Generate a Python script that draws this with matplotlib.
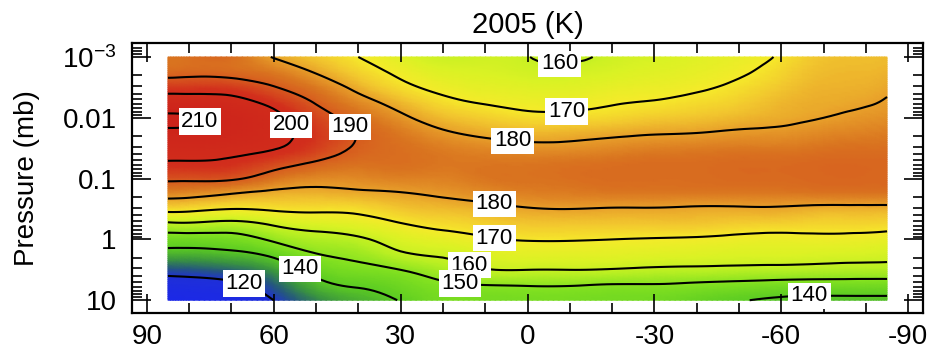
import numpy as np
import matplotlib
matplotlib.use("Agg")
import matplotlib.pyplot as plt
import matplotlib.tri as mtri
from matplotlib.colors import LinearSegmentedColormap

plt.rcParams["font.family"] = ["Liberation Sans", "DejaVu Sans"]
plt.rcParams["axes.unicode_minus"] = False

# latitude (deg) and log10 pressure (mb) of the temperature grid
lat = [85, 80, 70, 60, 50, 40, 30, 20, 10, 0, -10, -20, -30, -40, -50, -60, -70, -80, -85]
log_p = [-3, -2.75, -2.5, -2.25, -2, -1.75, -1.5, -1.25, -1, -0.75, -0.5, -0.25, 0, 0.25, 0.5, 0.75, 1]

# temperature (K), one row per latitude, top (1e-3 mb) to bottom (10 mb)
temp_by_lat = [
    [186, 187.5, 196, 205, 211, 208.5, 204, 199, 191.5, 183, 172.5, 158, 145, 136, 124, 116, 112],
    [186.5, 188, 196, 205, 210.5, 208.5, 204, 199, 191.5, 182.5, 172, 158.5, 145, 136, 124.5, 116.5, 112.5],
    [187, 187.5, 195.5, 203, 207, 206.5, 203, 198, 191, 180, 170, 157, 146, 137.5, 127, 118, 114],
    [179.5, 185, 190.5, 197.5, 202, 202.5, 200.5, 193.5, 186, 178, 171, 161, 151.5, 142, 133, 125.5, 120],
    [175, 179.5, 185, 189.5, 194, 196.5, 195, 189, 183, 177.5, 171.5, 164, 156, 149.5, 143, 137, 130],
    [170, 173.5, 178, 183, 187, 189.5, 189, 186.5, 183, 178.5, 172, 166, 158.5, 152.5, 147, 141, 136],
    [165, 168.5, 172, 177, 181.5, 185, 186.5, 186.5, 184, 179.5, 175, 169.5, 164, 158.5, 150, 144.5, 140.5],
    [161, 164.5, 168, 172, 176.5, 181, 184.5, 185.5, 184, 181, 176.5, 172, 166.5, 161, 155, 148.5, 146],
    [161.5, 163.5, 166, 169.5, 174, 178.5, 183, 185.5, 185.5, 182.5, 178, 173.5, 169, 164, 159.5, 150, 146],
    [160.2, 162, 165, 168, 172, 177, 182, 185.5, 186, 184, 179.5, 175, 170.5, 165.5, 160, 150.5, 146],
    [158.5, 162, 165, 168, 172, 177.5, 182, 186, 186.5, 184.5, 180, 175, 170.5, 165.5, 160, 150.5, 146],
    [161.5, 163.5, 166.5, 169.5, 173, 178.5, 183, 186.5, 187, 185, 179.5, 175, 170, 165.5, 159.5, 149.5, 145.5],
    [163, 165, 167.5, 170.5, 174.5, 179.5, 184, 187, 187, 185, 179.5, 175, 169.5, 165, 158.5, 149.5, 145],
    [165, 166.5, 169, 172, 175.5, 180, 184.5, 187, 187, 185, 179, 175, 169, 164.5, 158, 148.5, 142.5],
    [167, 169, 171.5, 174, 177, 181, 185, 187.5, 187.5, 185, 179, 174, 168, 164, 157.5, 147.5, 140.5],
    [171, 173, 175, 177, 178.5, 181.5, 185, 187.5, 187.5, 185, 179, 173.5, 167.5, 164, 157, 146.5, 138.5],
    [175.5, 176.5, 177.5, 178.5, 180, 183, 186, 188, 188, 185.5, 178, 173, 168, 163.5, 156.5, 146, 138],
    [176, 177, 178, 179.5, 181.5, 184, 186.5, 188, 188, 185.5, 178, 173, 167.5, 163, 156, 146, 138],
    [176.5, 177.5, 179, 180.5, 182, 184.5, 186.5, 188, 188, 185.5, 178, 172.5, 167, 162.5, 156, 146, 138],
]

contour_levels = [120, 140, 150, 160, 170, 180, 190, 200, 210]
# (lat, log10 p) where each contour label sits
label_spots = [(76.5, -1.95), (55.5, -1.9), (42, -1.85), (-7.6, -2.89), (-9.2, -2.13),
               (3.5, -1.66), (7.8, -0.61), (7.8, -0.05), (13.7, 0.41), (16, 0.72),
               (53, 0.38), (66.8, 0.67), (-66.6, 0.92)]

x_ticks = [90, 60, 30, 0, -30, -60, -90]
y_ticks = [-3, -2, -1, 0, 1]
y_ticklabels = [r"$\mathregular{10^{-3}}$", "0.01", "0.1", "1", "10"]

# colour scale: blue -> green -> yellow -> orange -> red
tmin, tmax = 110, 212
cmap_pts = [(110, "#1a26eb"), (119, "#1f30d8"), (125, "#25587e"), (132, "#3a9440"),
            (140, "#5ccc22"), (148, "#80e020"), (157, "#b8ef22"), (164, "#dcf224"),
            (170, "#f6ea2a"), (175, "#f2c82e"), (180, "#e8a02a"), (186, "#d9731f"),
            (192, "#d6501e"), (198, "#d22e1c"), (212, "#cc221a")]
cmap = LinearSegmentedColormap.from_list(
    "titan", [((t - tmin) / (tmax - tmin), c) for t, c in cmap_pts])

# grid -> triangulation (lat scaled so cells are square), smoothed by mpl's refiner
T = np.array(temp_by_lat).T
LA, LP = np.meshgrid(np.array(lat) / 40.0, log_p)
ny, nx = T.shape
tris = []
for j in range(ny - 1):
    for i in range(nx - 1):
        a = j * nx + i
        tris.append([a, a + 1, a + nx + 1])
        tris.append([a, a + nx + 1, a + nx])
tri = mtri.Triangulation(LA.ravel(), LP.ravel(), tris)
tri_fine, T_fine = mtri.UniformTriRefiner(tri).refine_field(T.ravel(), subdiv=3)
tri_plot = mtri.Triangulation(tri_fine.x * 40.0, tri_fine.y, tri_fine.triangles)

fig = plt.figure(figsize=(9.31, 3.53), dpi=100)
ax = fig.add_axes([0.1418, 0.1133, 0.8496, 0.7649])

ax.tripcolor(tri_plot, T_fine, shading="gouraud", cmap=cmap, vmin=tmin, vmax=tmax)
cs = ax.tricontour(tri_plot, T_fine, levels=contour_levels, colors="k", linewidths=1.5)
labels = ax.clabel(cs, manual=label_spots, inline=False, fontsize=16, fmt="%d")
for t in labels:
    t.set_rotation(0)
    t.set_bbox(dict(facecolor="white", edgecolor="none", boxstyle="square", pad=0.12))

ax.set_xlim(93.5, -93.5)
ax.set_ylim(1.21, -3.23)

ax.set_xticks(x_ticks)
ax.set_xticklabels([str(v) for v in x_ticks])
ax.set_xticks(np.arange(-90, 91, 10), minor=True)
ax.set_yticks(y_ticks)
ax.set_yticklabels(y_ticklabels)
minor_y = [d + np.log10(k) for d in range(-4, 2) for k in range(2, 10)]
ax.set_yticks([v for v in minor_y if -3.23 < v < 1.21], minor=True)

ax.tick_params(which="both", direction="in", top=True, right=True, width=1.2)
ax.tick_params(which="major", length=14)
ax.tick_params(which="minor", length=7)
ax.tick_params(axis="x", labelsize=20, pad=8)
ax.tick_params(axis="y", labelsize=20, pad=11)
for s in ax.spines.values():
    s.set_linewidth(1.6)

ax.set_ylabel("Pressure (mb)", fontsize=20, labelpad=16)
ax.set_title("2005 (K)", fontsize=21, pad=7)

fig.savefig("out.png", dpi=100)
